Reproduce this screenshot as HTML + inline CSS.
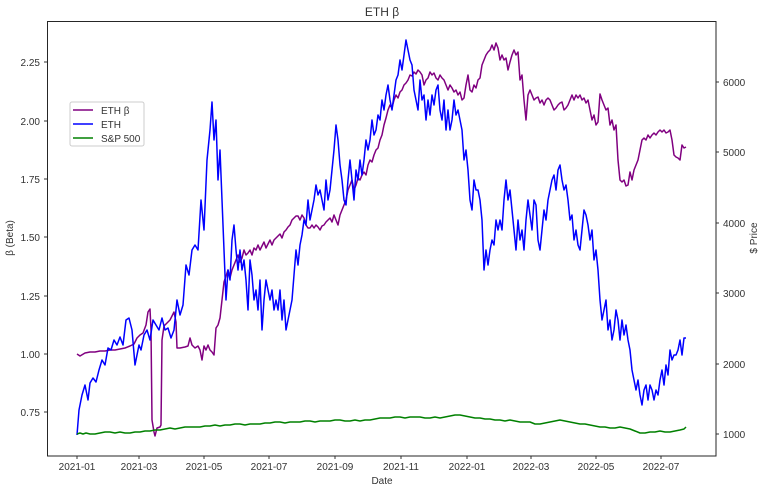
<!DOCTYPE html><html><head><style>body{margin:0;background:#fff}svg text{font-family:"Liberation Sans",sans-serif;fill:#333}</style></head><body>
<svg width="766" height="492" xmlns="http://www.w3.org/2000/svg">
<text x="382" y="16" text-anchor="middle" font-size="12">ETH β</text>
<g font-size="10">
<g stroke="#333"><line x1="44" x2="47" y1="62" y2="62"/><line x1="44" x2="47" y1="121" y2="121"/><line x1="44" x2="47" y1="179" y2="179"/><line x1="44" x2="47" y1="237" y2="237"/><line x1="44" x2="47" y1="296" y2="296"/><line x1="44" x2="47" y1="354" y2="354"/><line x1="44" x2="47" y1="412" y2="412"/>
<line x1="716" x2="719" y1="82" y2="82"/><line x1="716" x2="719" y1="152" y2="152"/><line x1="716" x2="719" y1="223" y2="223"/><line x1="716" x2="719" y1="293" y2="293"/><line x1="716" x2="719" y1="364" y2="364"/><line x1="716" x2="719" y1="434" y2="434"/></g>
<g text-anchor="end"><text x="40" y="66">2.25</text><text x="40" y="125">2.00</text><text x="40" y="183">1.75</text><text x="40" y="241">1.50</text><text x="40" y="300">1.25</text><text x="40" y="358">1.00</text><text x="40" y="416">0.75</text></g>
<g><text x="723" y="86">6000</text><text x="723" y="156">5000</text><text x="723" y="227">4000</text><text x="723" y="297">3000</text><text x="723" y="368">2000</text><text x="723" y="438">1000</text></g>
<g text-anchor="middle"><text x="77" y="470">2021-01</text><text x="139" y="470">2021-03</text><text x="204" y="470">2021-05</text><text x="269" y="470">2021-07</text><text x="335" y="470">2021-09</text><text x="401" y="470">2021-11</text><text x="467" y="470">2022-01</text><text x="531" y="470">2022-03</text><text x="596" y="470">2022-05</text><text x="661" y="470">2022-07</text>
<text x="382" y="484">Date</text></g>
<text transform="translate(13,238) rotate(-90)" text-anchor="middle">β (Beta)</text>
<text transform="translate(757,238) rotate(-90)" text-anchor="middle">$ Price</text>
</g>
<g stroke="#333"><line x1="77" x2="77" y1="456" y2="459"/><line x1="139" x2="139" y1="456" y2="459"/><line x1="204" x2="204" y1="456" y2="459"/><line x1="269" x2="269" y1="456" y2="459"/><line x1="335" x2="335" y1="456" y2="459"/><line x1="401" x2="401" y1="456" y2="459"/><line x1="467" x2="467" y1="456" y2="459"/><line x1="531" x2="531" y1="456" y2="459"/><line x1="596" x2="596" y1="456" y2="459"/><line x1="661" x2="661" y1="456" y2="459"/></g>
<g fill="none" stroke-width="1.5" stroke-linejoin="round">
<polyline stroke="#800080" points="77,354 80,356 85,353 90,352 95,352 100,351 105,351 110,350 115,350 120,349 125,348 130,346 134,344 137,338 140,335 143,333 146,325 148,312 150,309 151,330 152,420 154,432 155,436 157,428 160,427 161,425 162,340 164,326 166,324 168,322 170,320 172,316 174,312 176,322 177,348 180,348 185,347 188,346 190,338 192,345 195,348 198,346 200,350 202,360 204,346 206,350 208,345 210,350 212,352 214,355 216,328 218,325 220,318 222,300 224,282 226,276 228,270 230,278 232,270 234,265 236,260 238,255 240,262 242,258 244,250 246,255 248,253 250,250 252,255 254,248 256,250 258,245 260,250 262,246 264,242 266,248 268,244 270,240 272,245 274,240 276,238 278,236 280,234 282,238 284,232 286,230 288,227 290,225 292,220 294,218 296,216 298,216 300,220 302,215 304,218 306,225 308,228 310,228 312,225 314,228 316,225 318,227 320,230 322,226 324,225 326,222 328,220 330,218 332,222 334,215 336,220 338,225 340,215 342,210 344,205 346,200 348,190 350,185 352,180 354,190 356,185 358,178 360,180 362,175 364,172 366,175 368,165 370,160 372,162 374,155 376,150 378,148 380,140 382,135 384,125 386,118 388,110 390,105 392,108 394,100 396,95 398,98 400,92 402,90 404,85 406,83 408,80 410,75 412,76 414,72 416,74 418,70 420,72 422,75 424,85 426,80 428,78 430,72 432,75 434,73 436,78 438,80 440,75 442,78 444,80 446,85 448,90 450,85 452,88 454,92 456,90 458,95 460,92 462,100 464,98 466,85 468,75 470,90 472,92 474,85 476,88 478,80 480,78 482,65 484,60 486,55 488,52 490,50 492,45 494,50 496,43 498,48 500,60 502,55 504,60 506,58 508,70 510,62 512,55 514,50 516,55 518,52 520,80 522,75 524,100 526,120 528,95 530,90 532,95 534,100 536,98 538,97 540,103 542,100 544,105 546,100 548,98 550,100 552,105 554,110 556,108 558,105 560,103 562,102 564,110 566,108 568,105 570,100 572,95 574,100 576,95 578,98 580,95 582,100 584,98 586,103 588,100 590,110 592,120 594,115 596,125 598,122 600,94 602,100 604,105 606,110 608,108 610,125 612,120 614,130 616,125 618,160 620,180 622,182 624,180 626,186 628,185 630,172 632,180 634,170 636,165 638,160 640,150 642,140 644,138 646,140 648,135 650,138 652,135 654,133 656,135 658,132 660,130 662,132 664,130 666,133 668,132 670,130 672,140 674,155 676,157 678,158 680,160 682,145 684,148 686,147"/>
<polyline stroke="#0000ff" points="77,435 79,410 82,395 85,385 88,400 90,383 93,378 96,382 99,370 102,360 105,365 108,348 111,350 114,340 117,345 120,337 123,345 126,320 129,318 132,330 135,365 137,355 139,345 141,350 144,335 147,330 150,340 153,320 156,325 159,330 162,318 165,330 168,328 171,338 174,330 177,300 180,315 183,305 186,265 189,275 192,250 195,245 198,250 201,200 204,230 207,160 210,130 212,102 214,140 216,120 218,180 220,150 222,200 224,250 226,300 228,270 230,280 232,240 234,225 236,250 238,270 240,250 242,270 244,260 246,280 248,310 250,260 252,275 254,300 256,290 258,310 260,280 262,330 264,300 266,280 268,290 270,300 272,290 274,310 276,300 278,310 280,290 282,320 284,300 286,330 288,320 290,310 292,300 294,275 296,250 298,265 300,245 302,235 304,220 306,225 308,200 310,220 312,210 314,200 316,185 318,195 320,190 322,200 324,210 326,180 328,200 330,190 332,170 334,150 336,125 338,140 340,165 342,180 344,200 346,205 348,180 350,160 352,180 354,200 356,170 358,180 360,160 362,175 364,160 366,140 368,150 370,140 372,120 374,135 376,130 378,115 380,120 382,100 384,110 386,95 388,85 390,100 392,110 394,95 396,80 398,75 400,60 402,70 404,55 406,40 408,50 410,60 412,65 414,90 416,100 418,110 420,80 422,100 424,95 426,120 428,100 430,115 432,95 434,105 436,90 438,85 440,110 442,120 444,100 446,130 448,110 450,130 452,120 454,100 456,115 458,110 460,120 462,130 464,160 466,150 468,170 470,200 472,210 474,180 476,190 478,190 480,200 482,220 484,270 486,250 488,265 490,250 492,240 494,245 496,220 498,230 500,220 502,230 504,200 506,180 508,200 510,190 512,210 514,230 516,250 518,220 520,240 522,230 524,250 526,220 528,200 530,215 532,230 534,200 536,205 538,240 540,250 542,230 544,210 546,220 548,200 550,190 552,180 554,175 556,190 558,170 560,165 562,180 564,190 566,185 568,200 570,220 572,215 574,240 576,230 578,245 580,250 582,230 584,210 586,215 588,225 590,240 592,230 594,260 596,250 598,270 600,300 602,320 604,310 606,300 608,330 610,320 612,340 614,330 616,310 618,320 620,340 622,320 624,335 626,325 628,340 630,350 632,370 634,380 636,390 638,380 640,395 642,405 644,390 646,385 648,400 650,385 652,390 654,400 656,390 658,395 660,380 662,370 664,385 666,365 668,375 670,350 672,360 674,355 676,355 678,350 680,340 682,355 684,338 686,338"/>
<polyline stroke="#008000" points="77,434 80,433 83,434 86,433 90,434 95,434 100,433 105,432 110,432 115,433 120,432 125,433 130,433 135,432 140,432 145,431 150,431 155,430 160,430 165,429 170,428 175,429 180,428 185,427 190,427 195,427 200,427 205,426 210,426 215,425 220,426 225,425 230,425 235,424 240,424 245,425 250,424 255,424 260,424 265,423 270,423 275,422 280,422 285,423 290,422 295,422 300,422 305,421 310,421 315,422 320,421 325,421 330,421 335,420 340,420 345,421 350,421 355,420 360,421 365,420 370,420 375,419 380,418 385,418 390,418 395,417 400,417 405,418 410,417 415,417 420,417 425,418 430,418 435,417 440,418 445,417 450,416 455,415 460,415 465,416 470,417 475,418 480,418 485,419 490,419 495,420 500,420 505,421 510,420 515,421 520,422 525,422 530,422 535,424 540,424 545,423 550,422 555,421 560,420 565,421 570,422 575,423 580,424 585,424 590,425 595,426 600,427 605,427 610,428 615,428 620,427 625,428 630,429 635,431 640,433 645,433 650,432 655,432 660,431 665,432 670,432 675,431 680,430 684,429 686,427"/>
</g>
<rect x="47.5" y="21.5" width="668.5" height="434.5" fill="none" stroke="#262626" stroke-width="1"/>
<rect x="70" y="102" width="74" height="44" rx="2" fill="#fff" fill-opacity="0.85" stroke="#ccc"/>
<g stroke-width="1.5"><line x1="73" x2="93" y1="110" y2="110" stroke="#800080"/><line x1="73" x2="93" y1="124" y2="124" stroke="#0000ff"/><line x1="73" x2="93" y1="138" y2="138" stroke="#008000"/></g>
<g font-size="10"><text x="101" y="114">ETH β</text><text x="101" y="128">ETH</text><text x="101" y="142">S&amp;P 500</text></g>
</svg></body></html>
